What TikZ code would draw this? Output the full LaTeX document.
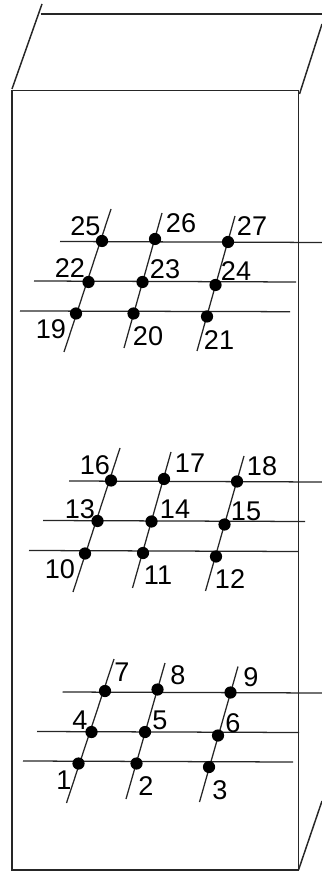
\documentclass[tikz,border=0pt]{standalone}
\usepackage{fontspec}
\setmainfont{Liberation Sans}
\tikzset{
  dot/.style={circle,fill=black,draw=none,minimum size=0.122cm,inner sep=0pt},
  num/.style={font=\fontsize{7.7pt}{9pt}\selectfont,inner sep=0pt},
  wire/.style={line width=0.36pt,black!85},
  edge/.style={line width=0.42pt,black!85}
}
\begin{document}
\begin{tikzpicture}[x=0.01cm,y=-0.01cm]
  \useasboundingbox (0,0) rectangle (322,871);
  % outer box
  \coordinate (tl) at (12,90.5); \coordinate (tr) at (298.5,90.5);
  \coordinate (bl) at (12,870); \coordinate (br) at (298.5,870);
  \draw[edge] (tl) -- (tr) -- (br) -- (bl) -- cycle;
  \coordinate (a0) at (12,89); \coordinate (a1) at (42,4);
  \coordinate (b0) at (40.5,14); \coordinate (b1) at (322,14);
  \coordinate (c0) at (299.5,94); \coordinate (c1) at (322,24);
  \coordinate (d0) at (298.5,870); \coordinate (d1) at (322,801);
  \draw[edge] (a0) -- (a1);
  \draw[edge] (b0) -- (b1);
  \draw[edge] (c0) -- (c1);
  \draw[edge] (d0) -- (d1);
  % horizontal wires
  \foreach \i/\xa/\ya/\xb/\yb in {1/23/761/293/762, 2/37/731.5/299/732.5, 3/62.5/692/322/693,
      4/29/550.5/298/551.5, 5/43/520.5/305/521.5, 6/69/481/322/482,
      7/20/311/290/311.7, 8/34/281/296/282, 9/60/241.5/322/242.5} {
    \coordinate (h\i) at (\xa,\ya); \coordinate (k\i) at (\xb,\yb);
    \draw[wire] (h\i) -- (k\i);
  }
  % slanted wires
  \foreach \i/\xa/\ya/\xb/\yb in {1/66.5/803/114/659, 2/126/799/165/663, 3/199.5/802/238/666.5,
      4/73/592/120/448, 5/132.5/588/171/452, 6/205.5/591/244/456,
      7/64/352/111/209, 8/124/348/162/213, 9/197/351/235/216} {
    \coordinate (p\i) at (\xa,\ya); \coordinate (q\i) at (\xb,\yb);
    \draw[wire] (p\i) -- (q\i);
  }
  % points and their numbers
  \foreach \n/\x/\y/\lx/\ly in {1/78.5/763.5/64/780, 2/136.5/763.5/146/786, 3/209/767/220/790,
      4/91.5/732/80/720, 5/145/732/160/720, 6/218/735.5/233/723,
      7/105/691/122/672, 8/157.5/689.5/178/675, 9/230.5/692.5/251/677,
      10/85/553.5/60/569, 11/143/553/158/575, 12/216/556.5/230/579,
      13/97.5/521/80/509, 14/151.5/521.5/175/509, 15/224.5/524.5/246/511,
      16/111/480.5/95/465, 17/164/479/190/463, 18/237/481.5/262/466,
      19/76/313.5/51/329, 20/133.5/313.5/148/336, 21/207/316.5/219/340,
      22/88.5/282/70/268, 23/142.5/282/165/269, 24/215.5/285/236/271,
      25/102/241/85.5/226, 26/155/239/181/223, 27/228/242/252/226} {
    \node[dot] (n\n) at (\x,\y) {};
    \node[num] (t\n) at (\lx,\ly) {\n};
  }
\end{tikzpicture}
\end{document}
